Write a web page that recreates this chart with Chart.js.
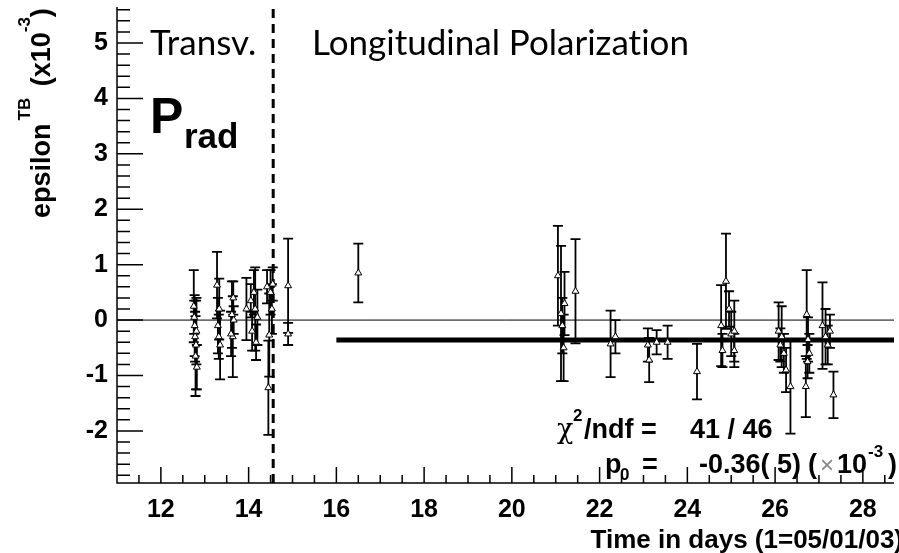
<!DOCTYPE html>
<html>
<head>
<meta charset="utf-8">
<script src="https://cdn.jsdelivr.net/npm/chart.js@4/dist/chart.umd.min.js"></script>
<style>
  html, body { margin: 0; padding: 0; background: #fff; }
  #wrap { width: 899px; height: 553px; position: relative; }
</style>
</head>
<body>
<div id="wrap"><canvas id="chart" width="899" height="553"></canvas></div>
<script>
// data: time (days), epsilon (x10^-3), error
const timeDays = [
    12.75, 12.77, 12.78, 12.80, 12.79, 12.82, 12.76, 12.81,
    13.28, 13.33, 13.30, 13.35, 13.32,
    13.62, 13.65, 13.64, 13.60, 13.66,
    13.95, 14.05, 14.08, 14.15, 14.17, 14.20, 14.12,
    14.45, 14.47, 14.50, 14.55, 14.53, 14.42,
    14.90, 14.90, 16.50,
    21.05, 21.12, 21.20, 21.15, 21.18, 21.45,
    22.25, 22.36, 23.10, 23.13, 23.30, 23.55, 24.22,
    24.77, 24.80, 24.88, 24.95, 25.00, 25.07, 25.07,
    26.08, 26.15, 26.20, 26.25, 26.35, 26.12,
    26.72, 26.70, 26.75, 26.78, 26.74,
    27.08, 27.15, 27.20, 27.25, 27.33
];
const epsilonTB = [
    0.25, -0.10, -0.30, -0.45, -0.65, -0.85, 0.05, -0.20,
    0.63, 0.20, -0.10, -0.45, -0.30,
    0.10, 0.40, -0.30, -0.25, 0.00,
    0.20, 0.35, -0.20, 0.20, -0.40, 0.05, 0.50,
    -1.22, -0.27, 0.50, 0.65, 0.20, 0.60,
    0.62, -0.25, 0.85,
    0.80, 0.12, 0.30, -0.10, -0.50, 0.52,
    -0.43, -0.30, -0.45, -0.72, -0.40, -0.40, -0.93,
    -0.10, -0.55, 0.70, 0.20, -0.25, -0.55, -0.20,
    -0.20, -0.30, -0.60, -0.90, -1.20, -0.45,
    0.10, -1.20, -0.35, -0.60, -0.75,
    -0.10, -0.30, -0.45, -0.20, -1.35
];
const epsilonErr = [
    0.65, 0.55, 0.45, 0.80, 0.72, 0.40, 0.30, 0.60,
    0.60, 0.55, 0.50, 0.62, 0.40,
    0.60, 0.30, 0.73, 0.40, 0.25,
    0.56, 0.30, 0.35, 0.75, 0.32, 0.50, 0.40,
    0.85, 0.75, 0.40, 0.30, 0.45, 0.30,
    0.85, 0.20, 0.53,
    0.90, 1.22, 0.57, 0.50, 0.60, 0.94,
    0.60, 0.30, 0.30, 0.40, 0.22, 0.30, 0.50,
    0.73, 0.30, 0.86, 0.32, 0.40, 0.30, 0.55,
    0.52, 0.55, 0.35, 0.40, 0.85, 0.30,
    0.80, 0.55, 0.40, 0.35, 0.30,
    0.78, 0.50, 0.35, 0.30, 0.42
];

// fit p0 = -0.36 over the longitudinal range, zero reference, transv./long. border
const fitX = [16, 28.71];
const fitY = [-0.36, -0.36];
const zeroX = [11, 28.71];
const zeroY = [0, 0];
const borderX = [14.56, 14.56];
const borderY = [-2.94, 5.65];

const xTicks = [12, 14, 16, 18, 20, 22, 24, 26, 28];
const yTicks = [-2, -1, 0, 1, 2, 3, 4, 5];
const xRange = [11, 28.71];
const yRange = [-2.94, 5.65];

const BOLD = '"Liberation Sans", Arial, sans-serif';

function toXY(xs, ys) {
    return xs.map((x, i) => ({ x: x, y: ys[i] }));
}

// error bars under the triangles
const errorBars = {
    id: 'errorBars',
    beforeDatasetDraw(chart, args) {
        if (args.index !== 0) return;
        const ctx = chart.ctx;
        const ys = chart.scales.y;
        const meta = chart.getDatasetMeta(0);
        ctx.save();
        ctx.strokeStyle = '#000';
        ctx.lineWidth = 1.8;
        meta.data.forEach((pt, i) => {
            const top = ys.getPixelForValue(epsilonTB[i] + epsilonErr[i]);
            const bot = ys.getPixelForValue(epsilonTB[i] - epsilonErr[i]);
            ctx.beginPath();
            ctx.moveTo(pt.x, top); ctx.lineTo(pt.x, bot);
            ctx.moveTo(pt.x - 5, top); ctx.lineTo(pt.x + 5, top);
            ctx.moveTo(pt.x - 5, bot); ctx.lineTo(pt.x + 5, bot);
            ctx.stroke();
        });
        ctx.restore();
    }
};

// ROOT style frame with inward ticks
const frame = {
    id: 'frame',
    afterDraw(chart) {
        const ctx = chart.ctx;
        const xs = chart.scales.x, ys = chart.scales.y;
        const a = chart.chartArea;
        ctx.save();
        ctx.strokeStyle = '#000';
        ctx.lineWidth = 1.5;
        ctx.beginPath();
        ctx.moveTo(a.left, a.top); ctx.lineTo(a.left, a.bottom); ctx.lineTo(a.right, a.bottom);
        for (let v = 11; v <= xRange[1]; v += 0.5) {
            const px = xs.getPixelForValue(v);
            const len = (Math.abs(v % 2) < 1e-6) ? 16 : 8;
            ctx.moveTo(px, a.bottom); ctx.lineTo(px, a.bottom - len);
        }
        for (let k = -14; k <= 28; k++) {
            const v = k * 0.2;
            if (v < yRange[0] || v > yRange[1]) continue;
            const py = ys.getPixelForValue(v);
            const len = (k % 5 === 0) ? 26 : 13;
            ctx.moveTo(a.left, py); ctx.lineTo(a.left + len, py);
        }
        ctx.stroke();
        ctx.restore();
    }
};

// texts on the picture
const labels = {
    id: 'labels',
    afterDraw(chart) {
        const ctx = chart.ctx;
        ctx.save();
        ctx.fillStyle = '#000';
        ctx.textBaseline = 'alphabetic';
        ctx.textAlign = 'left';

        ctx.font = '35px Lato, sans-serif';
        ctx.fillText('Transv.', 150, 55);
        ctx.fillText('Longitudinal Polarizat\u200Cion', 312, 55);

        ctx.font = 'bold 50px ' + BOLD;
        ctx.fillText('P', 150, 133);
        ctx.font = 'bold 35px ' + BOLD;
        ctx.fillText('rad', 184, 148);

        // y title
        ctx.save();
        ctx.translate(50, 218);
        ctx.rotate(-Math.PI / 2);
        let x = 0;
        const part = (t, font, dy) => {
            ctx.font = font;
            ctx.fillText(t, x, dy);
            x += ctx.measureText(t).width;
        };
        part('epsilon', 'bold 27px ' + BOLD, 0);
        x += 3;
        part('TB', 'bold 17px ' + BOLD, -20);
        x += 4;
        part(' (x10', 'bold 27px ' + BOLD, 0);
        part('-3', 'bold 17px ' + BOLD, -20);
        part(')', 'bold 27px ' + BOLD, 0);
        ctx.restore();

        // x title
        ctx.font = 'bold 26px ' + BOLD;
        ctx.textAlign = 'right';
        ctx.fillText('Time in days (1=05/01/03)', 903, 548);
        ctx.textAlign = 'left';

        // fit statistics
        ctx.font = '27px "DejaVu Serif", serif';
        ctx.fillText('\u03c7', 557, 438);
        ctx.font = 'bold 17px ' + BOLD;
        ctx.fillText('2', 573, 421);
        ctx.font = 'bold 27px ' + BOLD;
        ctx.fillText('/ndf =', 584, 438);
        ctx.fillText('41 / 46', 690, 438);

        ctx.fillText('p', 605, 473);
        ctx.font = 'bold 17px ' + BOLD;
        ctx.fillText('0', 620, 480);
        ctx.font = 'bold 27px ' + BOLD;
        ctx.fillText('=', 642, 473);
        ctx.fillText('-0.36( 5)', 699, 473);
        ctx.fillText('(', 808, 473);
        ctx.fillStyle = '#888';
        ctx.font = '24px ' + BOLD;
        ctx.fillText('\u00d7', 820, 473);
        ctx.fillStyle = '#000';
        ctx.font = 'bold 27px ' + BOLD;
        ctx.fillText('10', 837, 473);
        ctx.font = 'bold 17px ' + BOLD;
        ctx.fillText('-3', 868, 457);
        ctx.font = 'bold 27px ' + BOLD;
        ctx.fillText(')', 888, 473);
        ctx.restore();
    }
};

new Chart(document.getElementById('chart'), {
    type: 'scatter',
    data: {
        datasets: [
            {
                data: toXY(timeDays, epsilonTB),
                pointStyle: 'triangle',
                pointRadius: 4,
                pointBackgroundColor: '#fff',
                pointBorderColor: '#000',
                pointBorderWidth: 1
            },
            {
                type: 'line',
                data: toXY(fitX, fitY),
                borderColor: '#000',
                borderWidth: 5,
                pointRadius: 0
            },
            {
                type: 'line',
                data: toXY(borderX, borderY),
                borderColor: '#000',
                borderWidth: 3,
                borderDash: [9, 6],
                pointRadius: 0
            },
            {
                type: 'line',
                data: toXY(zeroX, zeroY),
                borderColor: '#000',
                borderWidth: 1,
                pointRadius: 0
            }
        ]
    },
    options: {
        responsive: false,
        animation: false,
        devicePixelRatio: 1,
        layout: { padding: { top: 7, right: 0, left: 0, bottom: 0 } },
        plugins: { legend: { display: false }, tooltip: { enabled: false } },
        scales: {
            x: {
                type: 'linear',
                min: xRange[0],
                max: xRange[1],
                afterBuildTicks: s => { s.ticks = xTicks.map(v => ({ value: v })); },
                afterFit: s => { s.height = 70; s.paddingLeft = 0; s.paddingRight = 0; },
                grid: { display: false, drawTicks: false },
                border: { display: false },
                ticks: {
                    padding: 12,
                    color: '#000',
                    font: { family: BOLD, weight: 'bold', size: 25 },
                    maxRotation: 0
                }
            },
            y: {
                type: 'linear',
                min: yRange[0],
                max: yRange[1],
                afterBuildTicks: s => { s.ticks = yTicks.map(v => ({ value: v })); },
                afterFit: s => { s.width = 117; s.paddingTop = 0; s.paddingBottom = 0; },
                grid: { display: false, drawTicks: false },
                border: { display: false },
                ticks: {
                    padding: 9,
                    color: '#000',
                    font: { family: BOLD, weight: 'bold', size: 25 }
                }
            }
        }
    },
    plugins: [errorBars, frame, labels]
});
</script>
</body>
</html>
